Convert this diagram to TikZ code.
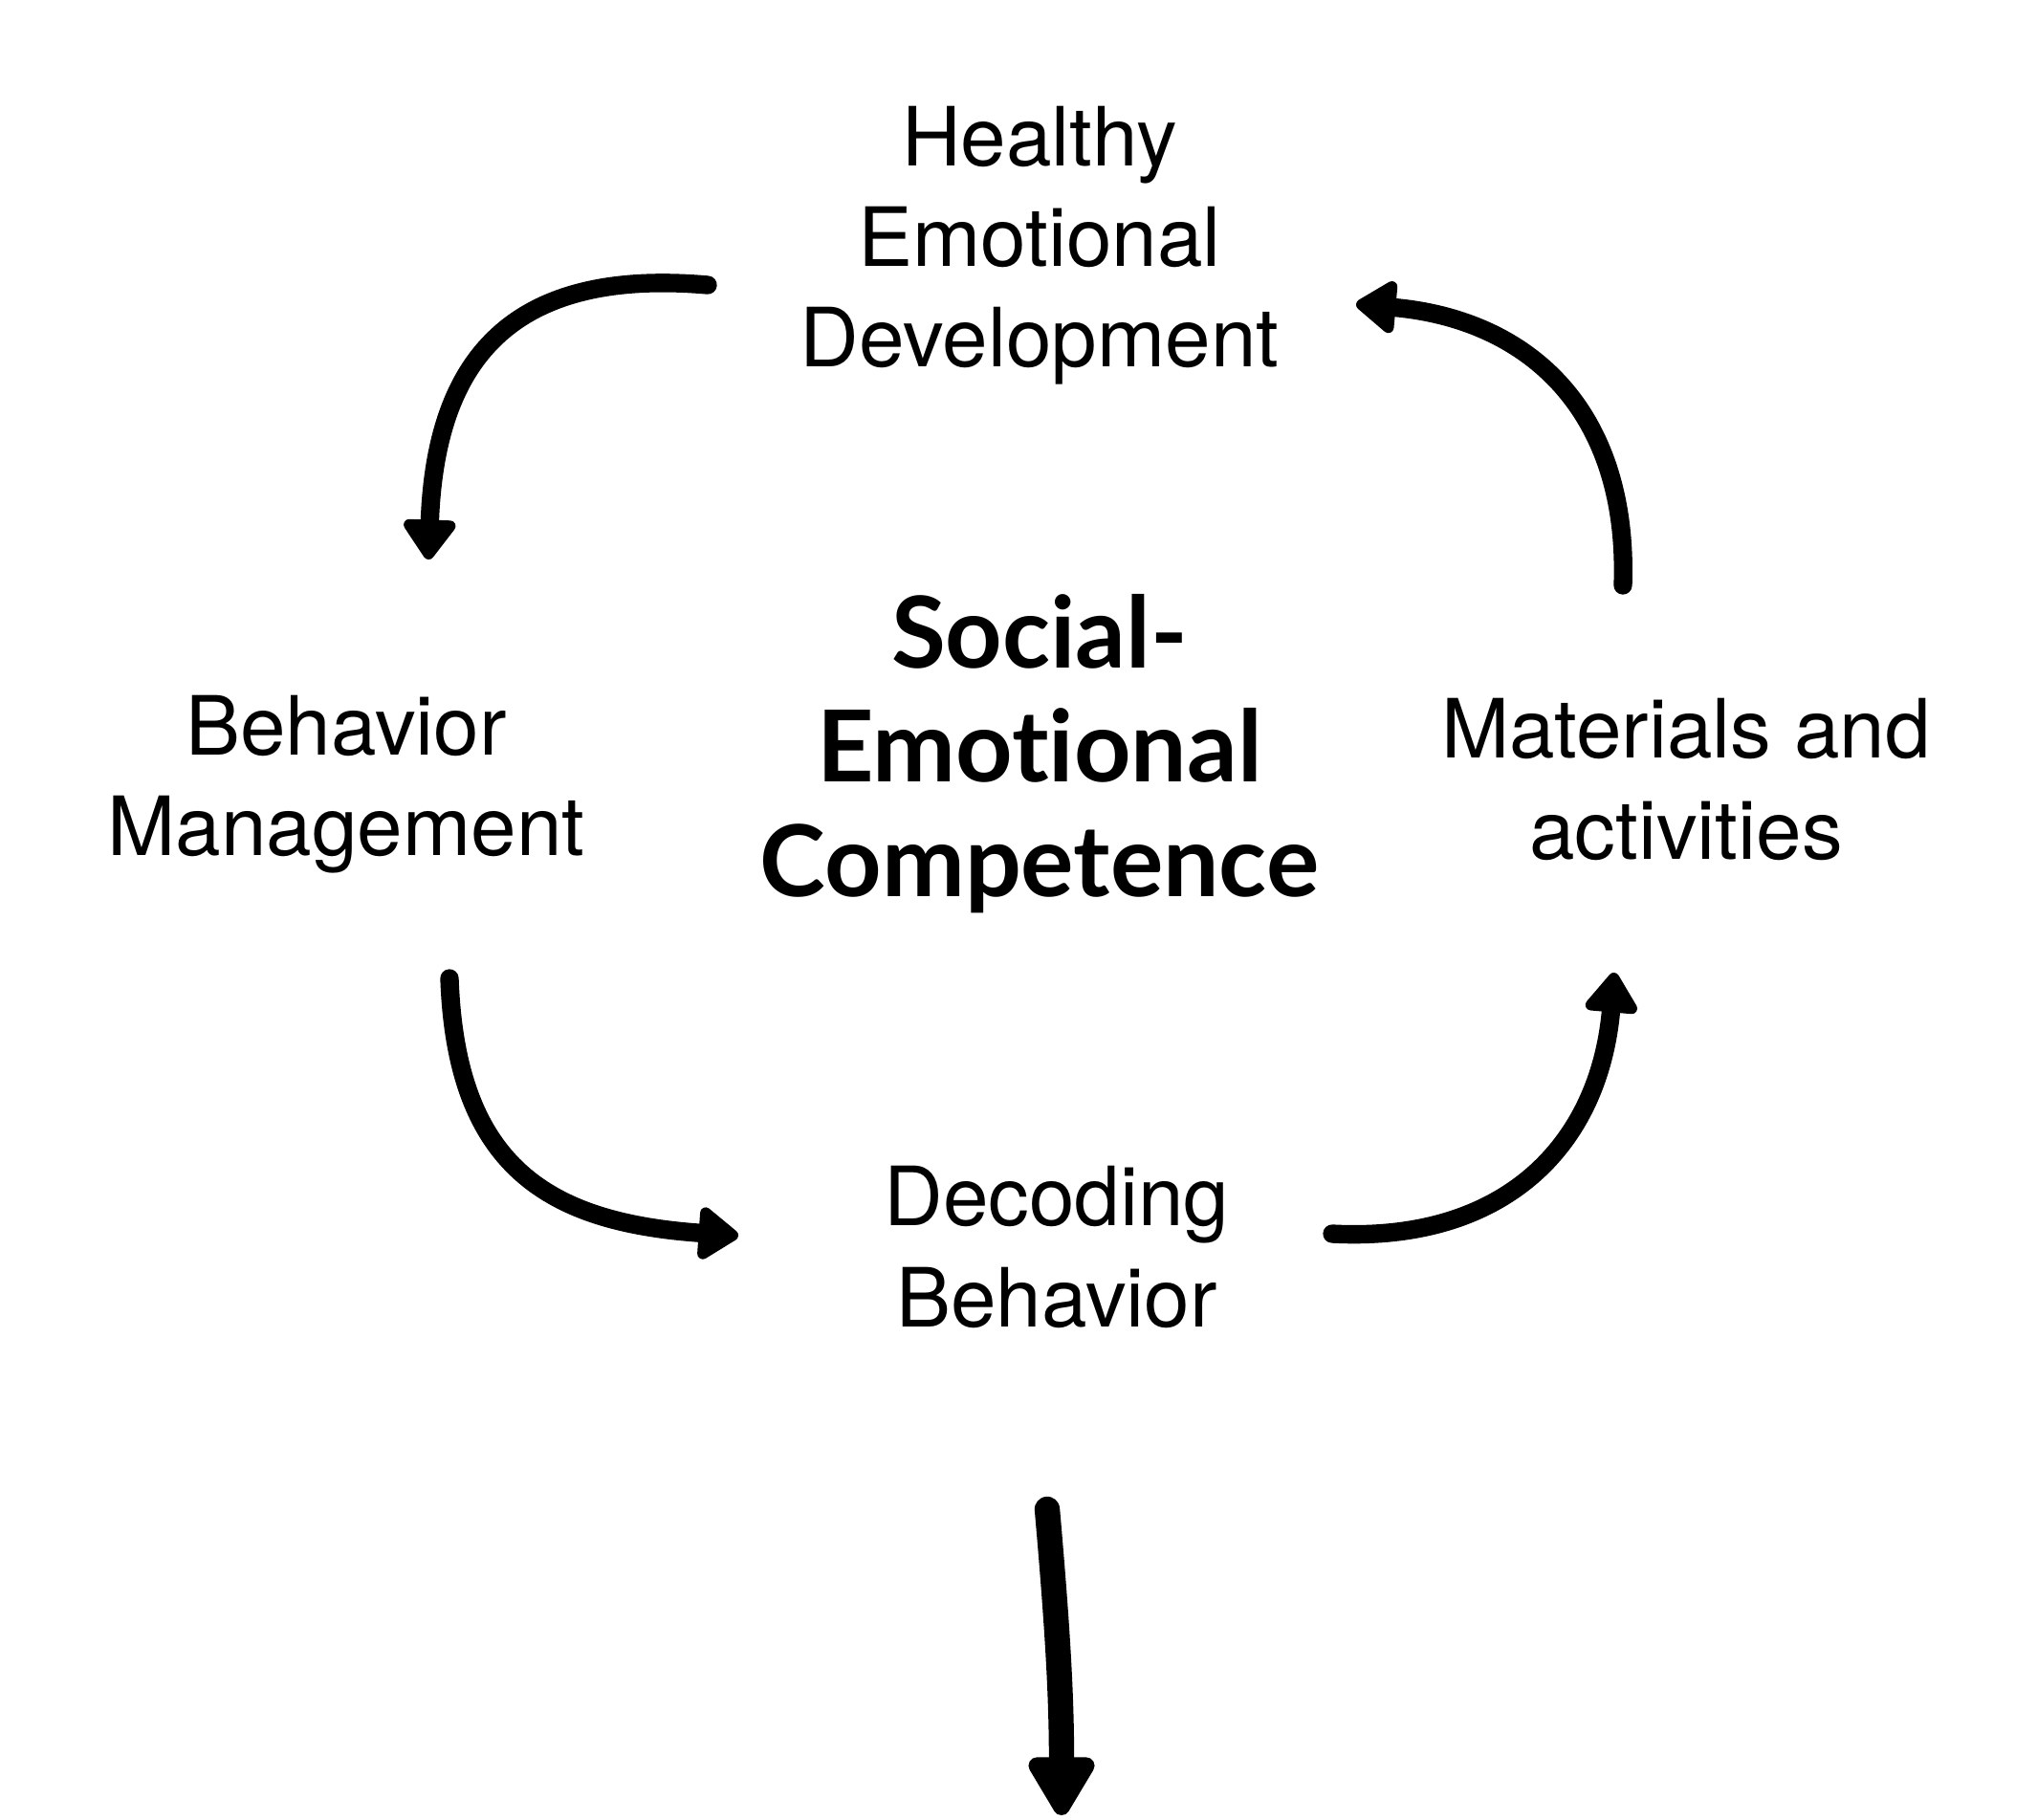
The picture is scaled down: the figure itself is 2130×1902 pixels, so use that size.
\documentclass[tikz,border=0pt]{standalone}
\usepackage{fontspec}
\setmainfont{TeX Gyre Heros}
\newfontfamily\hubfont{Lato}[Ligatures=NoCommon]
\usetikzlibrary{arrows.meta,positioning}

\begin{document}
\begin{tikzpicture}[
  x=0.01cm, y=0.01cm,
  lbl/.style={align=center, inner sep=0pt, font=\fontsize{24.3}{29.9}\selectfont},
  hub/.style={align=center, inner sep=0pt, font=\hubfont\bfseries\fontsize{29.5}{33.9}\selectfont},
  arr/.style={line width=5.5pt, line cap=round, -{Triangle[round, length=4.6mm, width=6.2mm]}},
  bigarr/.style={line width=7.5pt, line cap=round, -{Triangle[round, length=7mm, width=7.7mm]}},
]
\useasboundingbox (0,0) rectangle (2130,-1902);

% ---------- labels ----------
\node[hub] (sec) at (1087,-788) {Social-\\Emotional\\Competence};
\node[lbl] (hed) at (1087,-257) {Healthy\\Emotional\\Development};
\node[lbl] (bm)  at (362,-820)  {Behavior\\Management};
\node[lbl] (ma)  at (1763,-815) {Materials and\\activities};
\node[lbl] (db)  at (1105,-1304) {Decoding\\Behavior};

% ---------- arrow ends ----------
\coordinate (hedL) at (740,-298);
\coordinate (bmT)  at (448,-585);
\coordinate (bmB)  at (470,-1023);
\coordinate (dbL)  at (772,-1292);
\coordinate (dbR)  at (1393,-1290);
\coordinate (maB)  at (1688,-1017);
\coordinate (maT)  at (1697,-612);
\coordinate (hedR) at (1418,-318);
\coordinate (outT) at (1095,-1578);
\coordinate (outB) at (1110,-1898);

% ---------- cycle ----------
\draw[arr] (hedL) to[out=175, in=88, looseness=1.3] (bmT);
\draw[arr] (bmB) to[out=-88, in=176, looseness=1.25] (dbL);
\draw[arr] (dbR) to[out=-3, in=-95, looseness=1.15] (maB);
\draw[arr] (maT) to[out=88, in=-5, looseness=1.15] (hedR);

% ---------- outcome ----------
\draw[bigarr] (outT) to[out=-85, in=90] (outB);

\end{tikzpicture}
\end{document}
